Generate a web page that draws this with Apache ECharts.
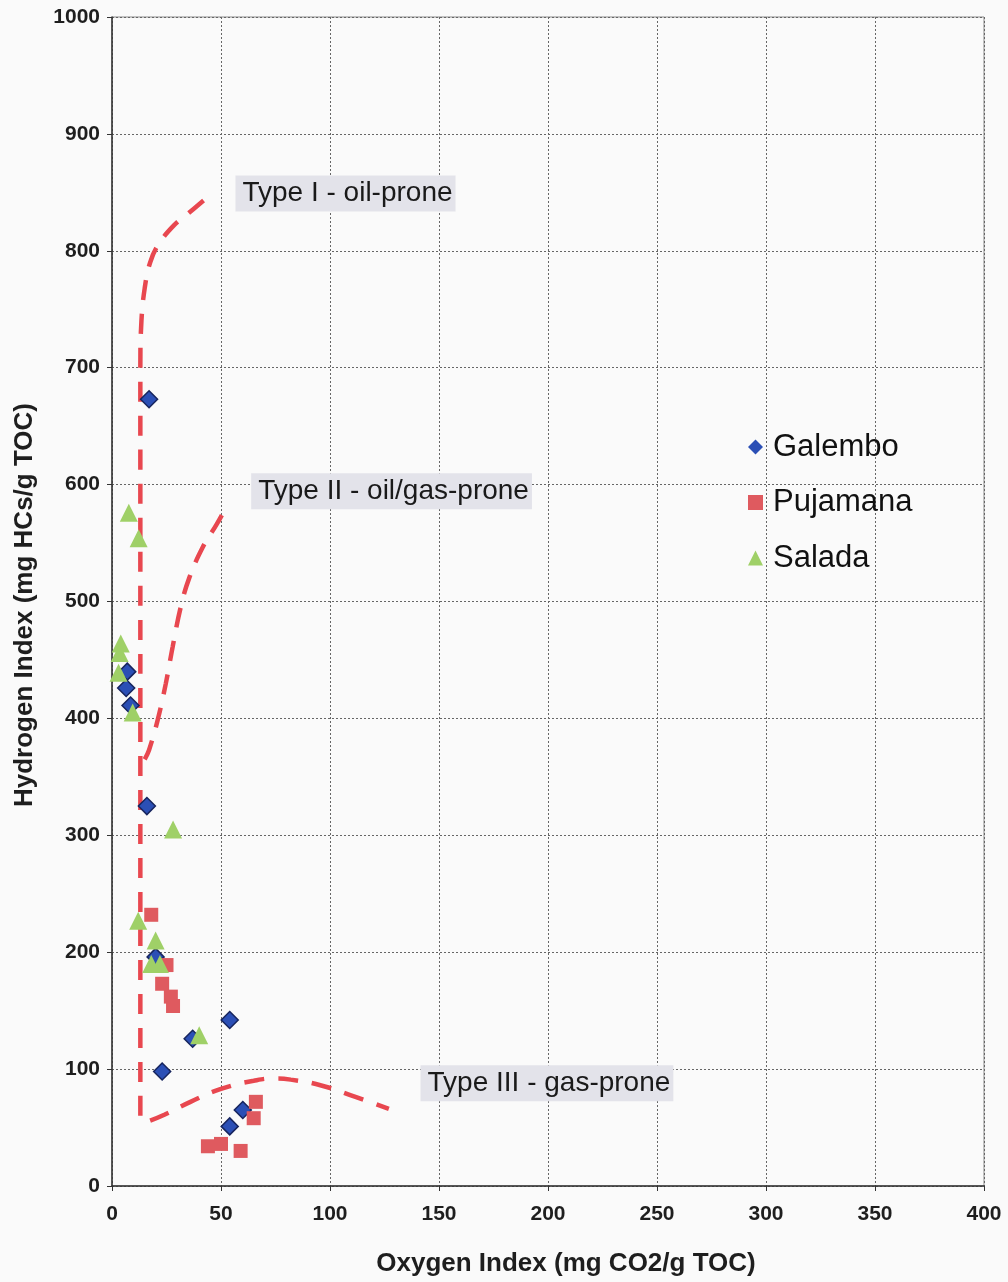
<!DOCTYPE html>
<html>
<head>
<meta charset="utf-8">
<script src="https://cdn.jsdelivr.net/npm/echarts@6/dist/echarts.min.js"></script>
<style>
html,body{margin:0;padding:0;background:#fafafa;}
#chart{width:1008px;height:1282px;}
</style>
</head>
<body>
<div id="chart"></div>
<script>
// ---- data (Oxygen Index, Hydrogen Index) ----
var xTicks = [0, 50, 100, 150, 200, 250, 300, 350, 400];
var yTicks = [0, 100, 200, 300, 400, 500, 600, 700, 800, 900, 1000];

var galembo = [[17,673],[7,440],[6.5,426],[8.5,411],[16,325],[20,196],[54,142],[37,126],[23,98],[60,65],[54,51]];
var pujamana = [[18,232],[25,189],[23,173],[27,162],[28,154],[66,72],[65,58],[44,34],[50,36],[59,30]];
var salada = [[7.7,576],[12.2,554],[4,464],[3.5,456],[3,439],[9.5,405],[28,305],[12,227],[20,210],[18,190],[22,190],[40,129]];

// kerogen type boundary curves
var typeI = [[13,60],[13,700],[13.5,740],[15,768],[17.5,790],[21.5,806],[28.5,822],[35,832],[42,843]];
var typeII = [[15,365],[17,373],[21,399],[24.7,430],[27.8,461],[31.5,495],[35.4,520],[41.5,546],[48,566],[51,576]];
var typeIII = [[17.5,56],[24,61],[36,72],[50,83],[65,90],[75,92],[82,91],[96,86],[112,76],[127,66]];

var typeLabels = ['Type I - oil-prone', 'Type II - oil/gas-prone', 'Type III - gas-prone'];
var seriesNames = ['Galembo', 'Pujamana', 'Salada'];

var FONT = '"Liberation Sans", Arial, sans-serif';
var chart = echarts.init(document.getElementById('chart'), null, {renderer: 'canvas'});

var dashStyle = {color: '#e8474f', width: 4.5, type: [20, 14]};
function curve(name, d, smooth) {
  return {
    name: name, type: 'line', data: d, smooth: smooth, symbol: 'none',
    lineStyle: dashStyle, silent: true, z: 1
  };
}

var labelAnchors = [[56.4, 849], [63.6, 594.3], [141.3, 87.9]];

var option = {
  backgroundColor: '#fafafa',
  animation: false,
  textStyle: {fontFamily: FONT},
  grid: {left: 112, right: 24, top: 17, bottom: 96, show: true, borderColor: '#8a8a8a', borderWidth: 1, backgroundColor: 'transparent'},
  xAxis: {
    type: 'value', min: 0, max: 400, interval: 50,
    axisLine: {show: true, lineStyle: {color: '#333', width: 1.5}},
    axisTick: {show: true, length: 5, lineStyle: {color: '#333'}},
    axisLabel: {fontFamily: FONT, fontWeight: 'bold', fontSize: 21, color: '#1e1e1e', margin: 18,
      formatter: function (v) { return xTicks.indexOf(v) >= 0 ? String(v) : ''; }},
    splitLine: {show: true, lineStyle: {color: '#666', width: 1, type: [2, 2]}}
  },
  yAxis: {
    type: 'value', min: 0, max: 1000, interval: 100,
    axisLine: {show: true, lineStyle: {color: '#333', width: 1.5}},
    axisTick: {show: true, length: 5, lineStyle: {color: '#333'}},
    axisLabel: {fontFamily: FONT, fontWeight: 'bold', fontSize: 21, color: '#1e1e1e', margin: 12,
      formatter: function (v) { return yTicks.indexOf(v) >= 0 ? String(v) : ''; }},
    splitLine: {show: true, lineStyle: {color: '#666', width: 1, type: [2, 2]}}
  },
  legend: {
    orient: 'vertical', left: 748, top: 429, padding: 0,
    itemWidth: 15, itemHeight: 15, itemGap: 19.5,
    textStyle: {fontFamily: FONT, fontSize: 31, color: '#111', lineHeight: 36, padding: [0, 0, 0, 5]},
    data: [
      {name: seriesNames[0], icon: 'diamond', itemStyle: {color: '#2b4fb5', borderWidth: 0}},
      {name: seriesNames[1], icon: 'rect', itemStyle: {color: '#df5a5f'}},
      {name: seriesNames[2], icon: 'triangle', itemStyle: {color: '#9fd067'}}
    ]
  },
  graphic: [
    {type: 'text', x: 566, y: 1264, style: {text: 'Oxygen Index (mg CO2/g TOC)', font: 'bold 26px ' + FONT, fill: '#1e1e1e', align: 'center', verticalAlign: 'middle'}},
    {type: 'text', x: 25, y: 605, rotation: Math.PI / 2, style: {text: 'Hydrogen Index (mg HCs/g TOC)', font: 'bold 26px ' + FONT, fill: '#1e1e1e', align: 'center', verticalAlign: 'middle'}}
  ],
  series: [
    curve('typeI', typeI, 0.4),
    curve('typeII', typeII, 0.4),
    curve('typeIII', typeIII, 0.5),
    {
      name: 'labels', type: 'scatter', symbolSize: 1, silent: true, z: 2,
      itemStyle: {color: 'rgba(0,0,0,0)'},
      data: typeLabels.map(function (t, i) { return {value: [labelAnchors[i][0], labelAnchors[i][1]], name: t}; }),
      label: {
        show: true, position: 'right', distance: 0,
        formatter: function (p) { return p.name; },
        fontFamily: FONT, fontSize: 28, color: '#1a1a1a', opacity: 1,
        backgroundColor: '#e3e3ea', padding: [4, 3, 4, 7]
      }
    },
    {
      name: seriesNames[0], type: 'scatter', data: galembo, symbol: 'diamond', symbolSize: 17, z: 3,
      itemStyle: {color: '#2b4fb5', borderColor: '#17255e', borderWidth: 1.5, opacity: 1}
    },
    {
      name: seriesNames[1], type: 'scatter', data: pujamana, symbol: 'rect', symbolSize: 14, z: 3,
      itemStyle: {color: '#df5a5f', opacity: 1}
    },
    {
      name: seriesNames[2], type: 'scatter', data: salada, symbol: 'triangle', symbolSize: 18, z: 3,
      itemStyle: {color: '#9fd067', opacity: 1}
    }
  ]
};
chart.setOption(option);
</script>
</body>
</html>
